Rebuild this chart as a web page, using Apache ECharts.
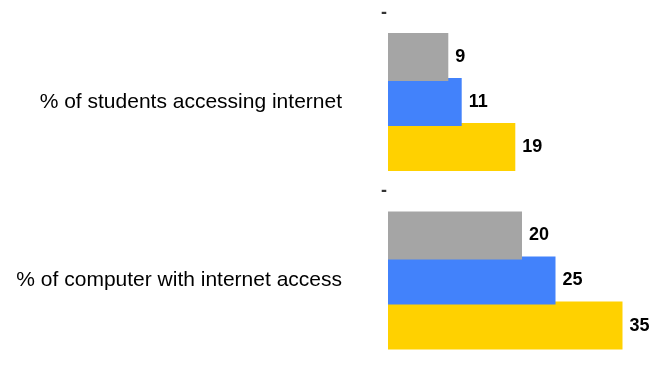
<!DOCTYPE html>
<html>
<head>
<meta charset="utf-8">
<title>Internet access</title>
<script src="https://cdn.jsdelivr.net/npm/echarts@6/dist/echarts.min.js"></script>
<style>
  html, body { margin: 0; padding: 0; background: #ffffff; }
  #chart { width: 658px; height: 365px; }
</style>
</head>
<body>
<div id="chart"></div>
<script>
// Categories, top to bottom
const categories = ['% of students accessing internet', '% of computer with internet access'];

// Series values per category
const noDataValues = [0, 0];      // shown as "-"
const greyValues = [9, 20];
const blueValues = [11, 25];
const yellowValues = [19, 35];

const FONT = '"Liberation Sans", Arial, Helvetica, sans-serif';

const valueLabel = {
  show: true,
  position: 'right',
  distance: 7,
  color: '#000000',
  fontFamily: FONT,
  fontSize: 18,
  fontWeight: 'bold'
};

const barCommon = { type: 'bar', barWidth: 48, barGap: '-6%' };

const chart = echarts.init(document.getElementById('chart'), null, { renderer: 'canvas' });

chart.setOption({
  animation: false,
  backgroundColor: '#ffffff',
  // category ticks sit on the grid edges (boundaryGap false), one per group centre
  grid: { left: 388, right: 2, top: 102, height: 178.5, containLabel: false },
  xAxis: {
    type: 'value',
    min: 0,
    max: 40,
    show: false
  },
  yAxis: {
    type: 'category',
    data: categories,
    inverse: true,
    boundaryGap: false,
    axisLine: { show: false },
    axisTick: { show: false },
    splitLine: { show: false },
    axisLabel: {
      margin: 46,
      color: '#000000',
      fontFamily: FONT,
      fontSize: 21
    }
  },
  series: [
    Object.assign({}, barCommon, {
      name: 'Series 1',
      data: greyValues,
      itemStyle: { color: '#a5a5a5' },
      label: valueLabel,
      z: 5
    }),
    Object.assign({}, barCommon, {
      name: 'Series 2',
      data: blueValues,
      itemStyle: { color: '#4282fb' },
      label: valueLabel,
      z: 4
    }),
    Object.assign({}, barCommon, {
      name: 'Series 3',
      data: yellowValues,
      itemStyle: { color: '#ffd100' },
      label: valueLabel,
      z: 3
    }),
    {
      // groups without data get a "-" marker above the bars
      name: 'No data',
      type: 'scatter',
      data: noDataValues.map((v, i) => [v, i]),
      symbolSize: 0,
      label: {
        show: true,
        position: 'left',
        distance: 1,
        offset: [0, -89],
        formatter: '-',
        color: '#000000',
        fontFamily: FONT,
        fontSize: 18,
        fontWeight: 'bold'
      },
      z: 6
    }
  ]
});
</script>
</body>
</html>
